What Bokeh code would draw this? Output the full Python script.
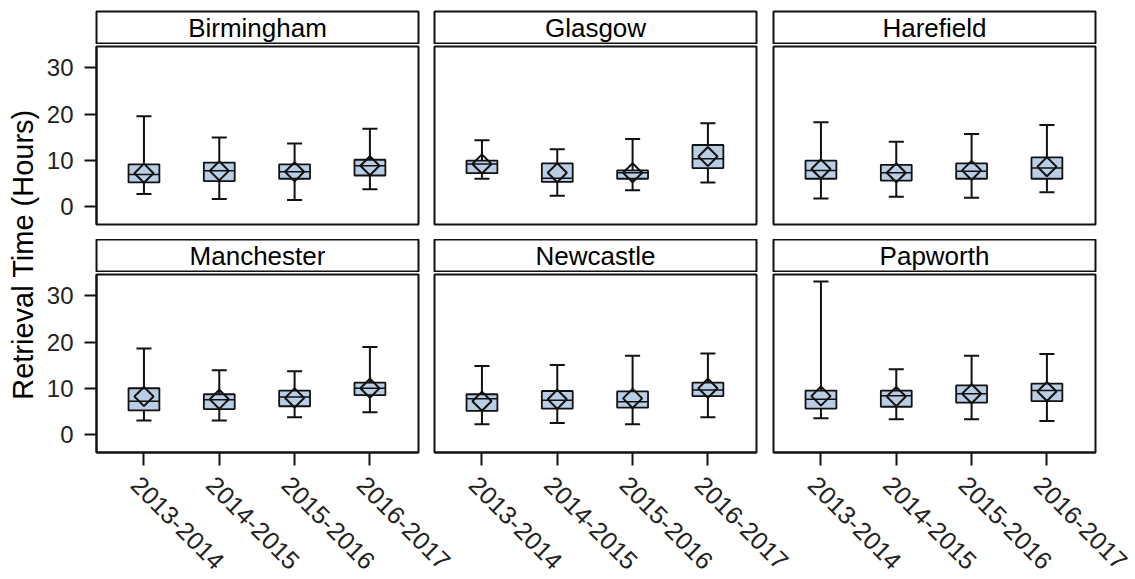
import math
from bokeh.plotting import figure
from bokeh.layouts import row, column
from bokeh.models import Range1d, FixedTicker, ColumnDataSource, LinearAxis, CustomLabelingPolicy
from bokeh.core.properties import value
from bokeh.embed import file_html
from bokeh.resources import INLINE

sites = ["Birmingham", "Glasgow", "Harefield", "Manchester", "Newcastle", "Papworth"]
periods = ["2013-2014", "2014-2015", "2015-2016", "2016-2017"]

whisker_low = {
    "Birmingham": [2.7, 1.6, 1.4, 3.7],
    "Glasgow": [6.0, 2.3, 3.5, 5.2],
    "Harefield": [1.7, 2.1, 1.9, 3.1],
    "Manchester": [3.0, 3.0, 3.7, 4.8],
    "Newcastle": [2.2, 2.5, 2.2, 3.7],
    "Papworth": [3.5, 3.3, 3.3, 2.9],
}
q1 = {
    "Birmingham": [5.2, 5.5, 6.0, 6.7],
    "Glasgow": [7.2, 5.3, 6.0, 8.3],
    "Harefield": [6.0, 5.6, 6.0, 6.0],
    "Manchester": [5.2, 5.5, 6.1, 8.5],
    "Newcastle": [5.1, 5.6, 5.8, 8.3],
    "Papworth": [5.6, 6.0, 6.9, 7.2],
}
median = {
    "Birmingham": [6.9, 7.7, 7.5, 8.8],
    "Glasgow": [9.2, 6.1, 7.3, 10.3],
    "Harefield": [7.8, 7.3, 7.6, 8.3],
    "Manchester": [7.2, 7.5, 8.1, 10.0],
    "Newcastle": [7.7, 7.4, 7.1, 9.6],
    "Papworth": [7.6, 8.4, 8.8, 9.5],
}
q3 = {
    "Birmingham": [9.1, 9.5, 9.1, 10.1],
    "Glasgow": [9.9, 9.3, 7.8, 13.3],
    "Harefield": [9.9, 9.0, 9.3, 10.6],
    "Manchester": [10.0, 8.7, 9.5, 11.2],
    "Newcastle": [8.7, 9.4, 9.3, 11.2],
    "Papworth": [9.5, 9.5, 10.6, 11.0],
}
whisker_high = {
    "Birmingham": [19.5, 14.9, 13.6, 16.8],
    "Glasgow": [14.3, 12.4, 14.6, 18.0],
    "Harefield": [18.2, 14.0, 15.7, 17.6],
    "Manchester": [18.6, 13.9, 13.7, 18.9],
    "Newcastle": [14.8, 15.0, 17.0, 17.5],
    "Papworth": [33.1, 14.1, 17.0, 17.4],
}
mean = {
    "Birmingham": [7.2, 7.7, 7.5, 8.8],
    "Glasgow": [9.2, 7.3, 7.3, 10.8],
    "Harefield": [8.1, 7.3, 7.8, 8.6],
    "Manchester": [8.2, 7.6, 7.9, 10.0],
    "Newcastle": [7.2, 7.6, 7.8, 10.0],
    "Papworth": [8.3, 8.2, 8.8, 9.3],
}
y_ticks = [0, 10, 20, 30]
y_label = "Retrieval Time (Hours)"

FONT = "Liberation Sans"
BOX_FILL = "#B9CDE5"
LINE = "#111111"
FRAME_W = 322
FRAME_H = 178
BOX_W = 0.41
CAP_W = 0.2
X_LO, X_HI = 0.37, 4.645
LABEL_SHIFT = 0.11  # shift of rotated tick labels, in category units

# horizontal borders per column: (left, right, margin_left)
COLS = [(54, 40, 0), (8, 40, -32), (9, 38, -32)]


def header(site, col, top):
    L, R, ml = COLS[col]
    h = figure(frame_width=FRAME_W, frame_height=33, x_range=Range1d(0, 1), y_range=Range1d(0, 1),
               output_backend="svg", toolbar_location=None,
               min_border_left=L, min_border_right=R, min_border_top=top, min_border_bottom=0,
               margin=(0, 0, 0, ml))
    h.axis.visible = False
    h.grid.visible = False
    h.outline_line_color = LINE
    h.outline_line_width = 2
    h.border_fill_color = None
    h.background_fill_color = "white"
    h.text(x=[0.5], y=[0.5], text=[site], text_align="center", text_baseline="middle",
           text_font=value(FONT), text_font_size="26px", text_color="black")
    return h


def panel(site, col, bottom_row):
    L, R, ml = COLS[col]
    p = figure(frame_width=FRAME_W, frame_height=FRAME_H,
               x_range=Range1d(X_LO, X_HI), y_range=Range1d(-3.9, 34.6),
               output_backend="svg", toolbar_location=None,
               min_border_left=L, min_border_right=R, min_border_top=2,
               min_border_bottom=(5 if bottom_row else 15),
               margin=(0, 0, 0, ml))
    p.grid.visible = False
    p.outline_line_color = LINE
    p.outline_line_width = 2
    p.border_fill_color = None
    p.background_fill_color = "white"

    xs = [i + 1 for i in range(len(periods))]
    src = ColumnDataSource(dict(
        x=xs,
        xl=[x - BOX_W / 2 for x in xs], xr=[x + BOX_W / 2 for x in xs],
        cl=[x - CAP_W / 2 for x in xs], cr=[x + CAP_W / 2 for x in xs],
        lo=whisker_low[site], q1=q1[site], med=median[site], q3=q3[site],
        hi=whisker_high[site], mean=mean[site]))

    p.segment(x0="x", y0="q3", x1="x", y1="hi", source=src, line_color=LINE, line_width=2)
    p.segment(x0="x", y0="lo", x1="x", y1="q1", source=src, line_color=LINE, line_width=2)
    p.segment(x0="cl", y0="hi", x1="cr", y1="hi", source=src, line_color=LINE, line_width=2)
    p.segment(x0="cl", y0="lo", x1="cr", y1="lo", source=src, line_color=LINE, line_width=2)
    p.vbar(x="x", width=BOX_W, bottom="q1", top="q3", source=src,
           fill_color=BOX_FILL, line_color=LINE, line_width=1.8)
    p.segment(x0="xl", y0="med", x1="xr", y1="med", source=src, line_color=LINE, line_width=1.5)
    p.scatter(x="x", y="mean", source=src, marker="square", angle=math.pi / 4, size=13.5,
              fill_color=None, line_color=LINE, line_width=2)

    if col == 0:
        yax = p.yaxis[0]
        yax.ticker = FixedTicker(ticks=y_ticks)
        yax.minor_tick_line_color = None
        yax.major_tick_in = 0
        yax.major_tick_out = 12
        yax.major_tick_line_width = 2
        yax.major_tick_line_color = LINE
        yax.axis_line_color = LINE
        yax.axis_line_width = 2
        yax.major_label_text_font = FONT
        yax.major_label_text_font_size = "24px"
        yax.major_label_text_color = "#222222"
        yax.major_label_standoff = 11
    else:
        p.yaxis.visible = False

    if bottom_row:
        # tick marks only (labels suppressed by the labeling policy)
        xax = p.xaxis[0]
        xax.ticker = FixedTicker(ticks=xs)
        xax.minor_tick_line_color = None
        xax.major_tick_in = 0
        xax.major_tick_out = 13
        xax.major_tick_line_width = 2
        xax.major_tick_line_color = LINE
        xax.axis_line_color = LINE
        xax.axis_line_width = 2
        xax.major_label_policy = CustomLabelingPolicy(code="return []")
        xax.major_label_overrides = {x: "" for x in xs}
        xax.major_label_text_font_size = "1px"
        xax.major_label_standoff = 0
        # rotated labels on a slightly shifted range
        p.extra_x_ranges = {"lab": Range1d(X_LO + LABEL_SHIFT, X_HI + LABEL_SHIFT)}
        lab = LinearAxis(x_range_name="lab", ticker=FixedTicker(ticks=xs),
                         major_label_overrides={x: t for x, t in zip(xs, periods)})
        lab.axis_line_color = None
        lab.major_tick_line_color = None
        lab.minor_tick_line_color = None
        lab.major_tick_in = 0
        lab.major_tick_out = 0
        lab.major_label_orientation = -math.pi / 4
        lab.major_label_text_font = FONT
        lab.major_label_text_font_size = "25px"
        lab.major_label_text_color = "#222222"
        lab.major_label_standoff = 15
        p.add_layout(lab, "below")
    else:
        p.xaxis.visible = False
    return p


row1_headers = row([header(s, i, 11) for i, s in enumerate(sites[:3])])
row1_panels = row([panel(s, i, False) for i, s in enumerate(sites[:3])])
row2_headers = row([header(s, i, 0) for i, s in enumerate(sites[3:])])
row2_panels = row([panel(s, i, True) for i, s in enumerate(sites[3:])])
grid = column(row1_headers, row1_panels, row2_headers, row2_panels)

YL_H = 560
ylab = figure(frame_width=42, frame_height=YL_H, x_range=Range1d(0, 42), y_range=Range1d(YL_H, 0),
              output_backend="svg", toolbar_location=None,
              min_border_left=0, min_border_right=0, min_border_top=0, min_border_bottom=0)
ylab.axis.visible = False
ylab.grid.visible = False
ylab.outline_line_color = None
ylab.border_fill_color = None
ylab.background_fill_color = None
ylab.text(x=[22], y=[254], text=[y_label], angle=math.pi / 2, text_align="center",
          text_baseline="middle", text_font=value(FONT), text_font_size="29px", text_color="black")

layout = row(ylab, grid)

with open("out.html", "w") as f:
    f.write(file_html(layout, INLINE))
